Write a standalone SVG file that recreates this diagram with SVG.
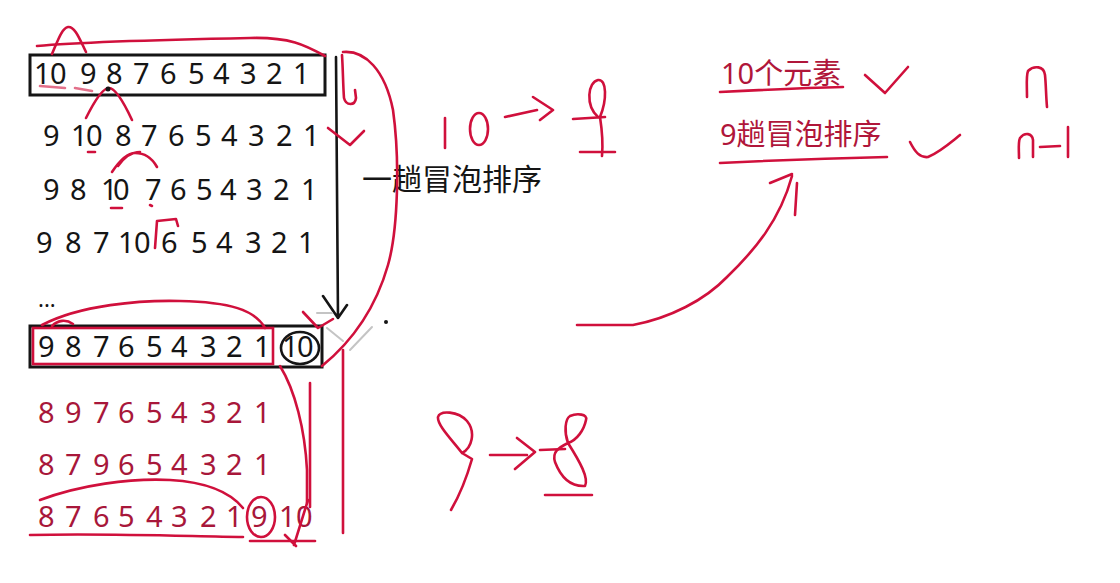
<svg xmlns="http://www.w3.org/2000/svg" width="1120" height="583" viewBox="0 0 1120 583">
<style>
.num{font-family:"Noto Sans","Open Sans",sans-serif;font-size:29px;fill:#151515}
.rnum{font-family:"Noto Sans","Open Sans",sans-serif;font-size:29px;fill:#a8173a}
.cjk{font-family:"Noto Sans","Noto Sans CJK SC",sans-serif;font-size:30px;fill:#151515}
.rcjk{font-family:"Noto Sans","Noto Sans CJK SC",sans-serif;font-size:29px;fill:#b0163a}
.box{fill:none;stroke:#151515;stroke-width:3}
.ink{fill:none;stroke:#d0103c;stroke-width:2.6;stroke-linecap:round;stroke-linejoin:round}
.blk{fill:none;stroke:#151515;stroke-width:2.6;stroke-linecap:round}
.grey{fill:none;stroke:#c4c4c4;stroke-width:2;stroke-linecap:round}
</style>
<rect width="1120" height="583" fill="#ffffff"/>

<g id="row1">
<rect class="box" x="30" y="55" width="295" height="40"/>
<text class="num" x="34 50 80 106 133 160 188 213 240 266 293" y="84">10987654321</text>
</g>
<g id="row2"><text class="num" x="43 71 86 115 141 168 195 221 248 276 303" y="146">91087654321</text></g>
<g id="row3"><text class="num" x="43 70 101 113 145 170 196 220 246 273 301" y="200">98107654321</text></g>
<g id="row4"><text class="num" x="36 65 93 118 134 161 191 216 245 271 298" y="253">98710654321</text></g>
<g id="dots"><text class="num" x="38" y="307" style="font-size:22px">...</text></g>
<g id="row5">
<rect class="box" x="30" y="326" width="292" height="41"/>
<rect x="33" y="328" width="240" height="36" fill="none" stroke="#d0103c" stroke-width="2.6"/>
<text class="num" x="38 65 93 118 146 171 200 226 254" y="357">987654321</text>
<text class="num" x="282 297" y="357">10</text>
<ellipse cx="300" cy="348" rx="19" ry="16" class="blk"/>
</g>
<g id="row6"><text class="rnum" x="38 65 93 118 146 171 200 226 254" y="423">897654321</text></g>
<g id="row7"><text class="rnum" x="38 65 93 118 146 171 200 226 254" y="475">879654321</text></g>
<g id="row8">
<text class="rnum" x="38 65 93 118 146 171 200 226 251" y="527">876543219</text>
<text class="rnum" x="279 296" y="527">10</text>
<ellipse cx="261" cy="517" rx="14" ry="20" class="ink"/>
</g>

<g id="label-pass"><text class="cjk" x="362" y="190">一趟冒泡排序</text></g>
<g id="label-elements"><text class="rcjk" x="721" y="84">10个元素</text></g>
<g id="label-passes"><text class="rcjk" x="720" y="145">9趟冒泡排序</text></g>

<g id="connectors">
<path class="blk" d="M336,57 L338,318 M323,296 L338,318 M347,305 L338,318"/>
<circle cx="386" cy="322" r="2" fill="#151515"/>
<path class="grey" d="M317,313 L332,313 M327,328 L343,341 M350,350 L372,327"/>

<path class="ink" d="M52,54 C58,40 62,28 68,27 C75,26 80,40 86,52"/>
<path class="ink" d="M37,46 C80,42 150,40 250,38 C290,37 305,45 325,56"/>
<path class="ink" d="M40,86 L65,88 M75,88 L92,91" stroke-opacity="0.6"/>
<path class="ink" d="M86,118 C95,100 103,88 109,88 C116,88 125,105 132,120"/>
<circle cx="108" cy="89" r="2.5" fill="#151515"/>
<path class="ink" d="M88,152 L95,152"/>
<path class="ink" d="M112,172 C120,160 128,153 135,153 C145,153 152,158 157,167 M118,166 C125,156 133,152 140,152"/>
<path class="ink" d="M111,208 L122,208 M150,205 L152,206"/>
<path class="ink" d="M155,248 L157,221 L176,219 L178,226"/>
<path class="ink" d="M342,55 C343,70 343,85 344,98 C346,106 355,106 356,98 L355,90"/>
<path class="ink" d="M328,128 L350,145 L364,131"/>
<path class="ink" d="M343,52 C365,50 385,70 393,110 C400,160 398,230 388,265 C378,300 360,335 322,366"/>
<path class="ink" d="M303,312 L318,328 L333,319"/>

<path class="ink" d="M42,325 C80,305 140,300 180,301 C230,302 255,310 265,328"/>
<path class="ink" d="M52,326 C58,320 66,319 73,324"/>
<path class="ink" d="M280,366 C295,390 305,430 307,470 L307,503"/>
<path class="ink" d="M310,383 L310,507"/>
<path class="ink" d="M308,500 L294,545 M285,535 L296,546"/>
<path class="ink" d="M250,541 L315,541"/>
<path class="ink" d="M343,350 L343,533"/>

<path class="ink" d="M40,500 C80,485 130,478 170,480 C205,482 230,492 243,508"/>
<path class="ink" d="M30,535 C100,533 180,536 243,537"/>

<path class="ink" d="M445,118 L445,148"/>
<ellipse class="ink" cx="479" cy="129" rx="9" ry="16"/>
<path class="ink" d="M505,117 L537,110 M533,97 L553,110 L540,120"/>
<path class="ink" d="M598,117 C585,105 588,82 598,80 C607,79 607,100 600,117 C602,130 603,145 602,156"/>
<path class="ink" d="M573,119 L605,117 M580,152 L615,152"/>

<path class="ink" d="M462,453 C452,440 437,425 438,417 C440,410 458,411 467,421 C476,432 472,448 462,453 L472,459 C466,480 458,498 451,510"/>
<path class="ink" d="M490,455 L527,455 M517,438 L535,452 L515,469"/>
<path class="ink" d="M568,443 C564,432 565,419 570,416 C577,413 588,414 586,420 C584,430 577,440 568,443 C558,448 552,452 555,462 C560,475 568,487 585,486 C589,478 580,462 568,443"/>
<path class="ink" d="M540,450 L565,449 M545,495 L592,495"/>

<path class="ink" d="M577,325 L633,325 C670,318 705,300 727,277 C755,250 780,220 792,176"/>
<path class="ink" d="M770,183 L792,174 M797,183 L795,215"/>

<path class="ink" d="M720,92 C760,90 800,88 843,87"/>
<path class="ink" d="M720,163 C780,160 840,158 887,157"/>
<path class="ink" d="M865,75 L885,93 L908,67"/>
<path class="ink" d="M910,142 C915,152 920,158 928,157 C940,152 950,143 960,135"/>
<path class="ink" d="M1027,97 C1027,85 1026,76 1028,71 C1034,65 1044,66 1045,75 C1046,85 1046,96 1047,107"/>
<path class="ink" d="M1019,158 C1019,150 1018,142 1020,138 C1025,132 1032,133 1033,140 L1033,157 M1040,147 L1060,146 M1068,127 L1068,157"/>
</g>
</svg>
